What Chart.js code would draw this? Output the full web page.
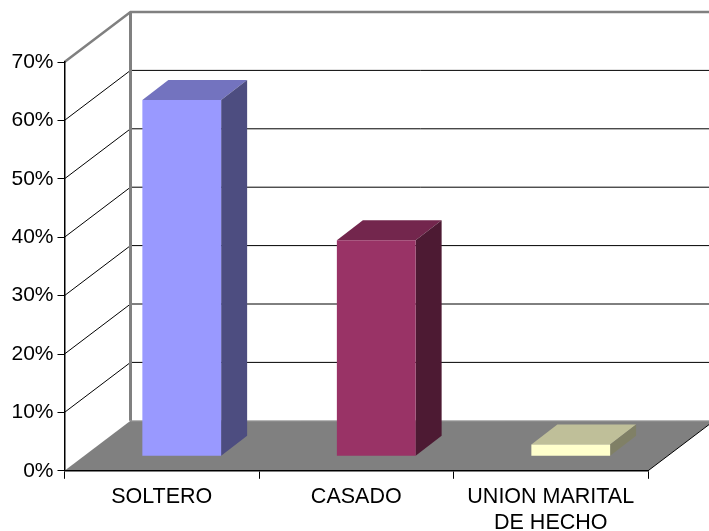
<!DOCTYPE html>
<html>
<head>
<meta charset="utf-8">
<style>
    html, body { margin: 0; padding: 0; background: #fff; }
    canvas { display: block; }
</style>
<script src="https://cdn.jsdelivr.net/npm/chart.js@4"></script>
</head>
<body>
<canvas id="chart" width="709" height="531"></canvas>
<script>
const categories = ['SOLTERO', 'CASADO', ['UNION MARITAL', 'DE HECHO']];
const percentages = [61, 37, 2];
const yMax = 70;
const yStep = 10;

const frontColors = ['#9999ff', '#993366', '#ffffcc'];
const topColors = ['#7373bf', '#73264d', '#bfbf99'];
const sideColors = ['#4d4d80', '#4d1a33', '#808066'];

// depth of the box behind the axes, and how far the bars sit inside it
const wallDx = 66, wallDy = 50;
const barShiftX = 20, barShiftY = 14.5;
const barDx = 26, barDy = 20;

function fillPoly(ctx, pts, color) {
    ctx.fillStyle = color;
    ctx.beginPath();
    pts.forEach(([x, y], i) => i ? ctx.lineTo(x, y) : ctx.moveTo(x, y));
    ctx.closePath();
    ctx.fill();
}

function strokeLine(ctx, pts, color, width) {
    ctx.strokeStyle = color;
    ctx.lineWidth = width;
    ctx.beginPath();
    pts.forEach(([x, y], i) => i ? ctx.lineTo(x, y) : ctx.moveTo(x, y));
    ctx.stroke();
}

const box3d = {
    id: 'box3d',
    beforeDraw(chart) {
        const { ctx, scales: { x, y } } = chart;
        const left = x.left, right = x.right;
        const y0 = y.getPixelForValue(0);
        const yTop = y.getPixelForValue(yMax);
        const far = chart.width + 10;

        ctx.save();
        // floor
        fillPoly(ctx, [[left, y0], [right, y0], [right + wallDx, y0 - wallDy], [left + wallDx, y0 - wallDy]], '#808080');
        strokeLine(ctx, [[left + wallDx, y0 - wallDy], [far, y0 - wallDy]], '#a6a6a6', 1);
        strokeLine(ctx, [[right, y0], [right + wallDx, y0 - wallDy]], '#000', 1);

        // gridlines on the side wall and the back wall
        y.ticks.forEach(t => {
            if (t.value === 0 || t.value === yMax) return;
            const py = y.getPixelForValue(t.value);
            strokeLine(ctx, [[left, py], [left + wallDx, py - wallDy], [far, py - wallDy]], '#000', 1);
        });

        // wall frame
        strokeLine(ctx, [[left, yTop], [left + wallDx, yTop - wallDy], [far, yTop - wallDy]], '#808080', 2.5);
        strokeLine(ctx, [[left + wallDx, yTop - wallDy], [left + wallDx, y0 - wallDy]], '#808080', 3);
        ctx.restore();
    },
    beforeDatasetDraw(chart) {
        const { ctx } = chart;
        chart.getDatasetMeta(0).data.forEach((bar, i) => {
            const l = bar.x - bar.width / 2 + barShiftX;
            const r = bar.x + bar.width / 2 + barShiftX;
            const t = bar.y - barShiftY;
            const b = bar.base - barShiftY;
            fillPoly(ctx, [[l, t], [r, t], [r + barDx, t - barDy], [l + barDx, t - barDy]], topColors[i]);
            fillPoly(ctx, [[r, t], [r + barDx, t - barDy], [r + barDx, b - barDy], [r, b]], sideColors[i]);
        });
        ctx.save();
        ctx.translate(barShiftX, -barShiftY);
    },
    afterDatasetDraw(chart) {
        chart.ctx.restore();
    }
};

new Chart(document.getElementById('chart'), {
    type: 'bar',
    data: {
        labels: categories,
        datasets: [{
            data: percentages,
            backgroundColor: frontColors,
            borderWidth: 0,
            barPercentage: 1,
            categoryPercentage: 0.405,
            clip: false
        }]
    },
    options: {
        responsive: false,
        animation: false,
        layout: { padding: { left: 0, right: 61, top: 62, bottom: 0 } },
        plugins: { legend: { display: false }, title: { display: false }, tooltip: { enabled: false } },
        scales: {
            x: {
                afterFit: scale => { scale.height = 60.2; },
                grid: { drawOnChartArea: false, color: '#000', tickLength: 8, tickColor: '#000' },
                border: { color: '#000', width: 1.5 },
                ticks: {
                    color: '#000',
                    autoSkip: false,
                    maxRotation: 0,
                    padding: 5,
                    font: { family: '"Liberation Sans"', size: 21.5, lineHeight: 1.22 }
                }
            },
            y: {
                min: 0,
                max: yMax,
                afterFit: scale => { scale.width = 64.5; },
                grid: { drawOnChartArea: false, color: '#000', tickLength: 7, tickColor: '#000' },
                border: { color: '#000', width: 1.5 },
                ticks: {
                    stepSize: yStep,
                    color: '#000',
                    padding: 4,
                    font: { family: '"Liberation Sans"', size: 21 },
                    callback: v => v + '%'
                }
            }
        }
    },
    plugins: [box3d]
});
</script>
</body>
</html>
